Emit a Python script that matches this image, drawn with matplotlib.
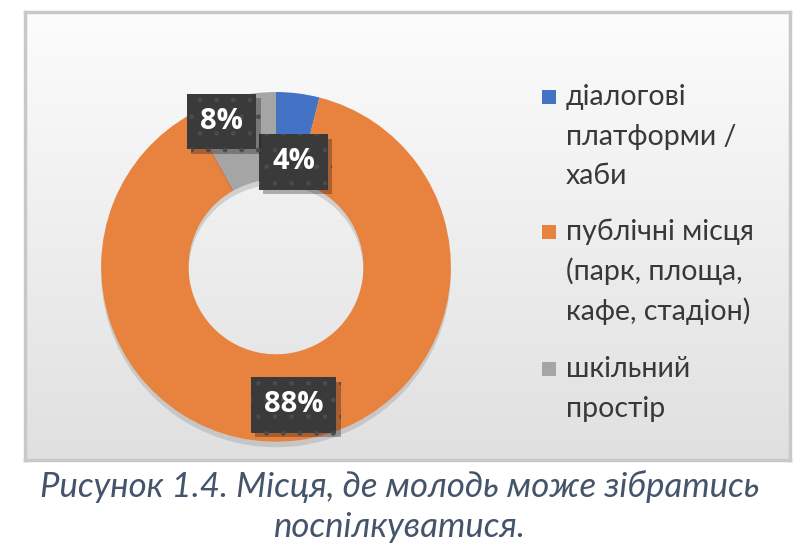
import matplotlib
matplotlib.use("Agg")
import matplotlib.pyplot as plt
import matplotlib.patheffects as pe
from matplotlib.patches import Rectangle
import numpy as np

categories = ["діалогові\nплатформи /\nхаби", "публічні місця\n(парк, площа,\nкафе, стадіон)", "шкільний\nпростір"]
values = [4, 88, 8]
labels = ["4%", "88%", "8%"]
colors = ["#4472C4", "#E8823F", "#A5A5A5"]
caption = "Рисунок 1.4. Місця, де молодь може зібратись\nпоспілкуватися."

plt.rcParams['font.family'] = ['Lato', 'DejaVu Sans']
W, H = 800, 548
fig = plt.figure(figsize=(8, 5.48), dpi=100)

def fy(py):
    return 1 - py / H

# chart frame with gradient background (white top -> light gray bottom)
bg = fig.add_axes([0.031, 0.16, 0.956, 0.818])
grad = np.linspace(0.0, 1.0, 256).reshape(-1, 1)
cmap = matplotlib.colors.LinearSegmentedColormap.from_list('g', ['#E0E0E0', '#FCFCFC'])
bg.imshow(grad, aspect='auto', cmap=cmap, extent=[0, 1, 0, 1], origin='lower')
bg.set_xlim(0, 1); bg.set_ylim(0, 1)
bg.set_xticks([]); bg.set_yticks([])
for s in bg.spines.values():
    s.set_color('#C8C8C8'); s.set_linewidth(2.5)

ax = fig.add_axes([0.115, 0.178, 0.46, 0.67])
ax.set_zorder(2)
wedges, _ = ax.pie(values, colors=colors, startangle=90, counterclock=False,
                   radius=1.0, wedgeprops=dict(width=0.5, edgecolor='none'))
for w in wedges:
    w.set_path_effects([pe.SimplePatchShadow(offset=(0, -4), shadow_rgbFace='#888888', alpha=0.3), pe.Normal()])
ax.set_aspect('equal')
ax.set_xlim(-1.05, 1.05); ax.set_ylim(-1.05, 1.05)

label_pos = [(0.10, 0.60), (0.10, -0.79), (-0.31, 0.83)]
for lab, (x, y) in zip(labels, label_pos):
    t = ax.text(x, y, lab, ha='center', va='center', color='white', fontsize=21, fontweight='bold',
                family=['Open Sans', 'DejaVu Sans'],
                bbox=dict(boxstyle='square,pad=0.45', facecolor='#3A3A3A', edgecolor='#4B4B4B',
                          hatch='.', linewidth=0))
    t.get_bbox_patch().set_path_effects([pe.SimplePatchShadow(offset=(3, -3), alpha=0.3), pe.Normal()])

# legend drawn manually: square aligned with first line of each entry
first_line_y = [97, 232, 369]
line_gap = 39.5
for cat, col, y0 in zip(categories, colors, first_line_y):
    fig.patches.append(Rectangle((542 / W, fy(y0 + 7)), 14 / W, 14 / H, transform=fig.transFigure,
                                 facecolor=col, edgecolor='none'))
    for i, line in enumerate(cat.split('\n')):
        fig.text(566 / W, fy(y0 + i * line_gap), line, ha='left', va='center',
                 fontsize=20.5, color='#383838')

cap_lines = caption.split('\n')
fig.text(0.5, fy(487), cap_lines[0], ha='center', va='center', fontsize=25, style='italic', color='#44546A')
fig.text(0.5, fy(527), cap_lines[1], ha='center', va='center', fontsize=25, style='italic', color='#44546A')

fig.savefig('out.png', dpi=100)
